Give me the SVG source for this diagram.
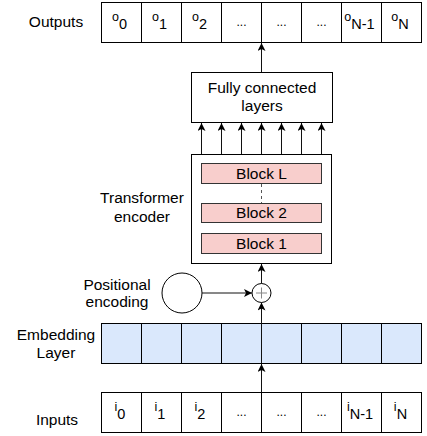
<svg xmlns="http://www.w3.org/2000/svg" width="427" height="436" viewBox="0 0 427 436">
<style>
text{font-family:"Liberation Sans",Arial,sans-serif;fill:#000}
.lbl{font-size:15.5px;text-anchor:middle}
.cell{fill:#fff;stroke:#000;stroke-width:1}
.emb{fill:#dae8fc;stroke:#000;stroke-width:1}
.blk{fill:#f8cecc;stroke:#333;stroke-width:1}
.box{fill:#fff;stroke:#000;stroke-width:1}
.ct{font-size:15px;text-anchor:middle}
.b{font-size:12.5px}
.s{font-size:14.5px}
.dots{font-size:12px;text-anchor:middle}
.con line{stroke:#111;stroke-width:1;fill:none}
</style>
<defs>
<marker id="ah" viewBox="0 0 8 8" refX="8" refY="4" markerWidth="8" markerHeight="8" markerUnits="userSpaceOnUse" orient="auto">
<path d="M0,0 L8,4 L0,8 L2,4 z" fill="#000"/>
</marker>
</defs>

<g id="outputs">
<rect class="cell" x="101.5" y="2.5" width="40" height="40"/>
<rect class="cell" x="141.5" y="2.5" width="40" height="40"/>
<rect class="cell" x="181.5" y="2.5" width="40" height="40"/>
<rect class="cell" x="221.5" y="2.5" width="40" height="40"/>
<rect class="cell" x="261.5" y="2.5" width="40" height="40"/>
<rect class="cell" x="301.5" y="2.5" width="40" height="40"/>
<rect class="cell" x="341.5" y="2.5" width="40" height="40"/>
<rect class="cell" x="381.5" y="2.5" width="40" height="40"/>
<text class="ct" x="119.5" y="21"><tspan class="b">o</tspan><tspan class="s" dy="8">0</tspan></text>
<text class="ct" x="159.5" y="21"><tspan class="b">o</tspan><tspan class="s" dy="8">1</tspan></text>
<text class="ct" x="199.5" y="21"><tspan class="b">o</tspan><tspan class="s" dy="8">2</tspan></text>
<text class="dots" x="241.5" y="26">...</text>
<text class="dots" x="281.5" y="26">...</text>
<text class="dots" x="321.5" y="26">...</text>
<text class="ct" x="359.5" y="21"><tspan class="b">o</tspan><tspan class="s" dy="8">N-1</tspan></text>
<text class="ct" x="400" y="21"><tspan class="b">o</tspan><tspan class="s" dy="8">N</tspan></text>
</g>
<g id="outputs-label"><text class="lbl" x="56" y="27">Outputs</text></g>

<g id="fc">
<rect class="box" x="191.5" y="72.5" width="141" height="50"/>
<text class="lbl" x="262" y="93">Fully connected</text>
<text class="lbl" x="262" y="111">layers</text>
</g>

<g id="transformer">
<rect class="box" x="191.5" y="154.5" width="140" height="109"/>
<rect class="blk" x="201.5" y="163.5" width="120" height="20"/>
<rect class="blk" x="201.5" y="203.5" width="120" height="19"/>
<rect class="blk" x="201.5" y="233.5" width="120" height="20"/>
<text class="lbl" x="261.5" y="179">Block L</text>
<text class="lbl" x="261.5" y="218">Block 2</text>
<text class="lbl" x="261.5" y="249">Block 1</text>
<line x1="261.5" y1="184" x2="261.5" y2="203" stroke="#555" stroke-dasharray="3 3"/>
</g>
<g id="transformer-label">
<text class="lbl" x="142" y="203">Transformer</text>
<text class="lbl" x="142" y="222">encoder</text>
</g>

<g id="posenc">
<circle cx="182" cy="293" r="20" fill="#fff" stroke="#000"/>
</g>
<g id="posenc-label">
<text class="lbl" x="117" y="290">Positional</text>
<text class="lbl" x="117" y="307">encoding</text>
</g>

<g id="plus">
<circle cx="261.5" cy="293" r="9.5" fill="#fff" stroke="#000"/>
<line x1="256" y1="293" x2="267" y2="293" stroke="#888"/>
<line x1="261.5" y1="287.5" x2="261.5" y2="298.5" stroke="#888"/>
</g>

<g id="embedding">
<rect class="emb" x="101.5" y="323.5" width="40" height="40"/>
<rect class="emb" x="141.5" y="323.5" width="40" height="40"/>
<rect class="emb" x="181.5" y="323.5" width="40" height="40"/>
<rect class="emb" x="221.5" y="323.5" width="40" height="40"/>
<rect class="emb" x="261.5" y="323.5" width="40" height="40"/>
<rect class="emb" x="301.5" y="323.5" width="40" height="40"/>
<rect class="emb" x="341.5" y="323.5" width="40" height="40"/>
<rect class="emb" x="381.5" y="323.5" width="40" height="40"/>
</g>
<g id="embedding-label">
<text class="lbl" x="56" y="340">Embedding</text>
<text class="lbl" x="56" y="358">Layer</text>
</g>

<g id="inputs">
<rect class="cell" x="101.5" y="392.5" width="40" height="40"/>
<rect class="cell" x="141.5" y="392.5" width="40" height="40"/>
<rect class="cell" x="181.5" y="392.5" width="40" height="40"/>
<rect class="cell" x="221.5" y="392.5" width="40" height="40"/>
<rect class="cell" x="261.5" y="392.5" width="40" height="40"/>
<rect class="cell" x="301.5" y="392.5" width="40" height="40"/>
<rect class="cell" x="341.5" y="392.5" width="40" height="40"/>
<rect class="cell" x="381.5" y="392.5" width="40" height="40"/>
<text class="ct" x="120" y="411"><tspan class="b">i</tspan><tspan class="s" dy="8">0</tspan></text>
<text class="ct" x="160" y="411"><tspan class="b">i</tspan><tspan class="s" dy="8">1</tspan></text>
<text class="ct" x="200" y="411"><tspan class="b">i</tspan><tspan class="s" dy="8">2</tspan></text>
<text class="dots" x="241.5" y="416">...</text>
<text class="dots" x="281.5" y="416">...</text>
<text class="dots" x="321.5" y="416">...</text>
<text class="ct" x="360" y="411"><tspan class="b">i</tspan><tspan class="s" dy="8">N-1</tspan></text>
<text class="ct" x="400.5" y="411"><tspan class="b">i</tspan><tspan class="s" dy="8">N</tspan></text>
</g>
<g id="inputs-label"><text class="lbl" x="57" y="425">Inputs</text></g>

<g class="con" id="connectors">
<line x1="261.5" y1="72" x2="261.5" y2="43" marker-end="url(#ah)"/>
<line x1="201.5" y1="154" x2="201.5" y2="123" marker-end="url(#ah)"/>
<line x1="221.5" y1="154" x2="221.5" y2="123" marker-end="url(#ah)"/>
<line x1="241.5" y1="154" x2="241.5" y2="123" marker-end="url(#ah)"/>
<line x1="261.5" y1="154" x2="261.5" y2="123" marker-end="url(#ah)"/>
<line x1="281.5" y1="154" x2="281.5" y2="123" marker-end="url(#ah)"/>
<line x1="301.5" y1="154" x2="301.5" y2="123" marker-end="url(#ah)"/>
<line x1="321.5" y1="154" x2="321.5" y2="123" marker-end="url(#ah)"/>
<line x1="261.5" y1="283.5" x2="261.5" y2="264" marker-end="url(#ah)"/>
<line x1="202" y1="293" x2="252" y2="293" marker-end="url(#ah)"/>
<line x1="261.5" y1="392" x2="261.5" y2="364" marker-end="url(#ah)"/>
<line x1="261.5" y1="363" x2="261.5" y2="302.5" marker-end="url(#ah)"/>
</g>
</svg>
